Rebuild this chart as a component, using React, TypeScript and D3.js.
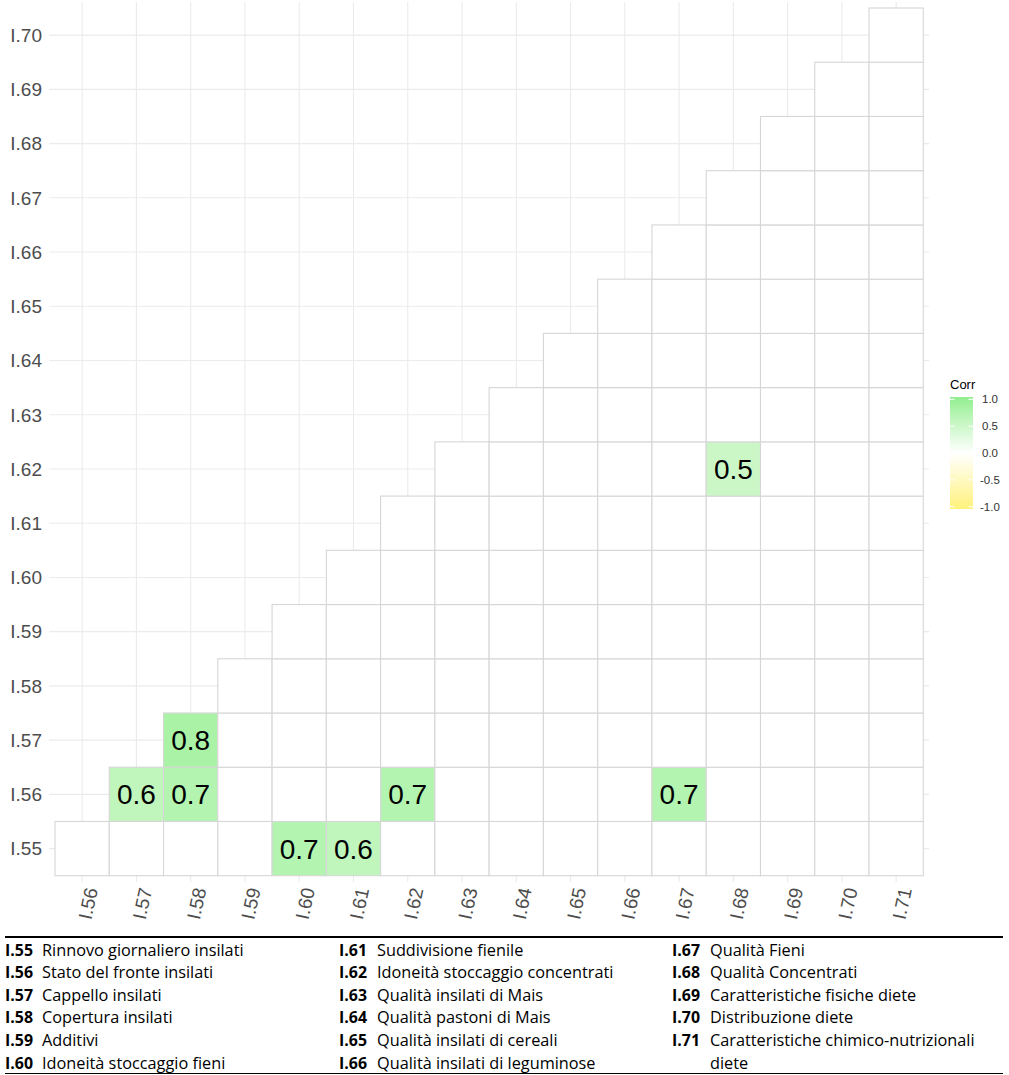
import React from "react";
import * as d3 from "d3";

const xVars = ["I.56","I.57","I.58","I.59","I.60","I.61","I.62","I.63","I.64","I.65","I.66","I.67","I.68","I.69","I.70","I.71"];
const yVars = ["I.55","I.56","I.57","I.58","I.59","I.60","I.61","I.62","I.63","I.64","I.65","I.66","I.67","I.68","I.69","I.70"];

// significant correlations (others shown blank / 0)
const sigX = ["I.57","I.58","I.58","I.60","I.61","I.62","I.67","I.68"];
const sigY = ["I.56","I.56","I.57","I.55","I.55","I.56","I.56","I.62"];
const sigVal = [0.6, 0.7, 0.8, 0.7, 0.6, 0.7, 0.7, 0.5];

const legendTicks = [1.0, 0.5, 0.0, -0.5, -1.0];

const col1Codes = ["I.55","I.56","I.57","I.58","I.59","I.60"];
const col1Names = ["Rinnovo giornaliero insilati","Stato del fronte insilati","Cappello insilati","Copertura insilati","Additivi","Idoneità stoccaggio fieni"];
const col2Codes = ["I.61","I.62","I.63","I.64","I.65","I.66"];
const col2Names = ["Suddivisione fienile","Idoneità stoccaggio concentrati","Qualità insilati di Mais","Qualità pastoni di Mais","Qualità insilati di cereali","Qualità insilati di leguminose"];
const col3Codes = ["I.67","I.68","I.69","I.70","I.71",""];
const col3Names = ["Qualità Fieni","Qualità Concentrati","Caratteristiche fisiche diete","Distribuzione diete","Caratteristiche chimico-nutrizionali","diete"];

export default function App() {
  const W = 1009, H = 1075;
  const x = d3.scaleBand<string>().domain(xVars).range([55, 923.3]).padding(0);
  const y = d3.scaleBand<string>().domain(yVars).range([875.7, 8]).padding(0);
  const color = d3.scaleLinear<string>()
    .domain([-1, 0, 1])
    .range(["#FFF27A", "#FFFFFF", "#90EE90"])
    .interpolate(d3.interpolateLab);

  const valueMap = new Map<string, number>();
  sigX.forEach((sx, i) => valueMap.set(sx + "|" + sigY[i], sigVal[i]));

  const tiles: { xv: string; yv: string; v: number }[] = [];
  xVars.forEach((xv, j) => {
    yVars.forEach((yv, i) => {
      if (j >= i) {
        const v = valueMap.get(xv + "|" + yv) ?? 0;
        tiles.push({ xv, yv, v });
      }
    });
  });

  const bw = x.bandwidth();
  const bh = y.bandwidth();
  const panel = { x0: 49, x1: 929, y0: 2, y1: 882 };

  const ly = d3.scaleLinear().domain([1, -1]).range([399.3, 506.7]);
  const gradStops = d3.range(0, 21).map((i) => {
    const v = 1 - i / 10;
    return { off: i / 20, c: color(v) };
  });

  const rowY = (i: number) => 955.5 + i * 22.6;
  const tableFont = "'Open Sans', sans-serif";

  const renderCol = (codes: string[], names: string[], cx: number, tx: number) =>
    codes.map((c, i) => (
      <g key={cx + "-" + i}>
        {c && (
          <text x={cx} y={rowY(i)} fontFamily={tableFont} fontSize={16.2} fontWeight="bold" fill="#000" textLength={28} lengthAdjust="spacingAndGlyphs">{c}</text>
        )}
        <text x={tx} y={rowY(i)} fontFamily={tableFont} fontSize={16.3} fill="#000">{names[i]}</text>
      </g>
    ));

  return (
    <svg width={W} height={H} style={{ position: "absolute", left: 0, top: 0, background: "#fff" }}>
      <defs>
        <linearGradient id="corrGrad" x1="0" y1="0" x2="0" y2="1">
          {gradStops.map((s, i) => (
            <stop key={i} offset={s.off} stopColor={s.c} />
          ))}
        </linearGradient>
      </defs>
      <rect x={0} y={0} width={W} height={H} fill="#fff" />
      {/* grid */}
      {xVars.map((v) => (
        <line key={"gx" + v} x1={x(v)! + bw / 2} x2={x(v)! + bw / 2} y1={panel.y0} y2={panel.y1} stroke="#EBEBEB" strokeWidth={1.1} />
      ))}
      {yVars.map((v) => (
        <line key={"gy" + v} y1={y(v)! + bh / 2} y2={y(v)! + bh / 2} x1={panel.x0} x2={panel.x1} stroke="#EBEBEB" strokeWidth={1.1} />
      ))}
      {/* tiles */}
      {tiles.map((t) => (
        <rect key={t.xv + t.yv} x={x(t.xv)} y={y(t.yv)} width={bw} height={bh} fill={color(t.v)} stroke="#D6D6D6" strokeWidth={1.1} />
      ))}
      {tiles.filter((t) => t.v !== 0).map((t) => (
        <text key={"l" + t.xv + t.yv} x={x(t.xv)! + bw / 2} y={y(t.yv)! + bh / 2} dy="0.36em" textAnchor="middle"
          fontFamily="Liberation Sans, Arial, sans-serif" fontSize={28} fill="#000">{t.v.toFixed(1)}</text>
      ))}
      {/* y axis labels */}
      {yVars.map((v) => (
        <text key={"yl" + v} x={42} y={y(v)! + bh / 2} dy="0.36em" textAnchor="end"
          fontFamily="Liberation Sans, Arial, sans-serif" fontSize={19} fill="#4D4D4D">{v}</text>
      ))}
      {/* x axis labels */}
      {xVars.map((v) => {
        const cx = x(v)! + bw / 2 + 9;
        const cy = 888;
        return (
          <text key={"xl" + v} transform={`translate(${cx},${cy}) rotate(-78)`} textAnchor="end" dy="0.36em"
            fontFamily="Liberation Sans, Arial, sans-serif" fontSize={19} fill="#4D4D4D">{v}</text>
        );
      })}
      {/* legend */}
      <text x={950} y={389} fontFamily="Liberation Sans, Arial, sans-serif" fontSize={13} fill="#000">Corr</text>
      <rect x={950} y={397} width={23} height={112} fill="url(#corrGrad)" />
      {legendTicks.map((t) => (
        <g key={"lt" + t}>
          <line x1={950} x2={954.5} y1={ly(t)} y2={ly(t)} stroke="#fff" strokeWidth={1} />
          <line x1={968.5} x2={973} y1={ly(t)} y2={ly(t)} stroke="#fff" strokeWidth={1} />
          <text x={t < 0 ? 980 : 982} y={ly(t)} dy="0.36em" fontFamily="Liberation Sans, Arial, sans-serif" fontSize={11.5} fill="#333">{t.toFixed(1)}</text>
        </g>
      ))}
      {/* table */}
      <line x1={5} x2={1003} y1={937} y2={937} stroke="#000" strokeWidth={2} />
      {renderCol(col1Codes, col1Names, 5, 42)}
      {renderCol(col2Codes, col2Names, 339, 377)}
      {renderCol(col3Codes, col3Names, 672, 710)}
      <line x1={5} x2={1003} y1={1073.5} y2={1073.5} stroke="#000" strokeWidth={1.2} />
    </svg>
  );
}
